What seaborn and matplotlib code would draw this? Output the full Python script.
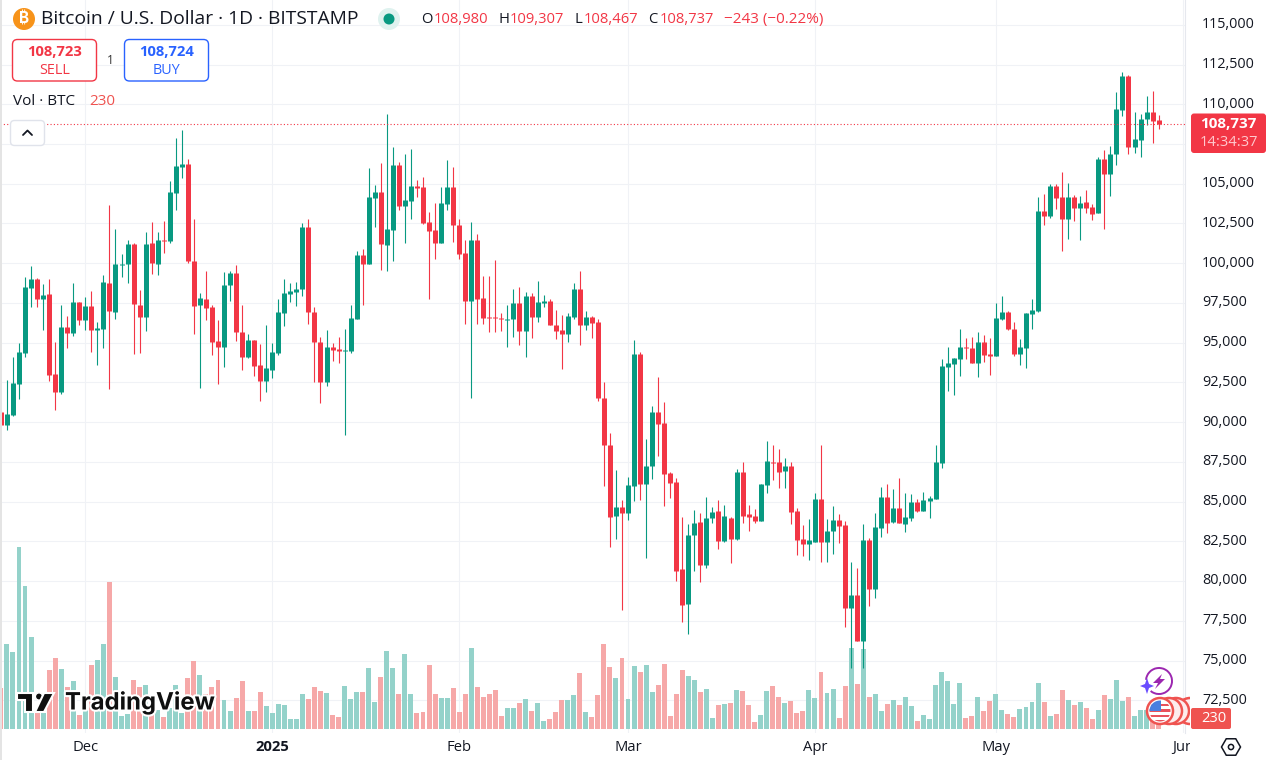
import numpy as np
import pandas as pd
import matplotlib
matplotlib.use("Agg")
import matplotlib.pyplot as plt
import matplotlib.transforms as mtrans
import seaborn as sns
from matplotlib.patches import Circle, FancyBboxPatch, Polygon, Rectangle, Arc, RegularPolygon
import matplotlib.patheffects as pe

opens = [90630,89830,90480,92410,94380,98450,99010,97750,98070,93040,
91900,95990,95600,97570,96430,97310,95800,95870,98760,96940,
99890,99950,101210,97380,96620,101270,99950,101460,101400,104420,
106050,106240,100140,97380,97750,97250,95110,94730,98630,99390,
95680,94110,95180,93600,92600,93290,94360,96870,98070,98200,
98390,102290,96940,95050,92540,94740,94620,94490,94490,96500,
100530,99960,104110,104490,101150,102100,106180,103610,103920,104860,
104800,102600,102100,101280,103730,104800,102410,100650,97630,101470,
97820,96630,96630,96560,96440,96500,97510,95750,97950,96630,
97510,97630,96120,95810,95560,96630,98390,96120,96630,96310,
91510,88560,84110,84670,84300,85990,94270,86120,87240,90630,
89940,86810,86240,80790,78590,82920,83730,81040,83980,84420,
82540,83980,82670,86870,84240,84110,83790,86050,87500,87500,
86930,87240,84420,82670,82350,82480,85170,82480,83170,83860,
83550,78340,79160,76270,82600,79530,83360,85300,83700,84600,
83600,83980,84980,84410,85040,85170,87430,93470,93660,93970,
94720,94660,93720,95040,94280,94160,96470,96930,95860,94280,
94660,96800,96990,103280,102960,104850,104160,102770,104160,103470,
103840,103530,103150,106550,105600,106860,109630,111770,107300,107740,
109060,109500,108980]

closes = [89830,90520,92470,94420,98500,99010,97780,98000,92975,91900,
95990,95600,97570,96430,97310,95800,95930,98820,97000,99950,
99950,101210,97440,96620,101210,100020,101460,101400,104480,106120,
106240,100140,97310,97820,97190,95050,94730,98630,99390,95680,
94110,95180,93540,92600,93410,94420,96940,98130,98260,98390,
102290,96940,95050,92540,94740,94550,94490,94550,96560,100530,
99960,104170,104490,101220,102160,106180,103610,103980,104860,104740,
102540,102040,101280,103800,104800,102410,100590,97630,101470,97760,
96560,96560,96560,96500,96500,97510,95750,97950,96630,97570,
97630,96120,95750,95560,96690,98390,96120,96630,96250,91530,
88560,84050,84670,84300,86050,94270,86120,87240,90630,89880,
86740,86180,80660,78530,82920,83670,81040,83980,84360,82540,
84110,82670,86870,84110,84050,83790,86120,87560,87430,86870,
87240,84360,82600,82350,82600,85170,82480,83170,83860,83480,
78340,79160,76210,82600,79530,83420,85300,83670,84600,83660,
84040,84980,84410,85100,85230,87490,93530,93720,94030,94720,
94660,93720,95040,94220,94160,96550,96930,95860,94280,94720,
96860,97050,103280,102960,104850,104090,102770,104160,103470,103780,
103470,103090,106550,105600,106860,109690,111770,107300,107800,109060,
109500,108940,108737]

highs = [90700,92660,94100,94990,99140,99830,99070,98700,99010,95050,
97380,96680,98760,97570,97880,98260,96310,99260,103660,102150,
100580,101460,101250,98320,101970,102600,101970,102660,105170,107880,
108380,106560,102780,98130,99510,97380,96430,99450,99510,99890,
97380,95550,95180,94920,96120,94990,97750,99010,98760,98830,
102540,102790,97250,95370,95810,94990,95370,95870,97380,100780,
100900,105990,104930,106310,109390,107320,106370,106880,107190,105240,
105430,103230,103800,104800,106500,106060,102790,101470,102600,101850,
99200,99200,100210,96900,97380,98390,98510,98200,98140,98890,
98010,97760,97070,96750,96880,98760,99520,97000,96690,96500,
92510,89310,86990,85110,86550,95150,94390,88940,91010,92820,
91260,86870,86470,84050,83610,84490,84300,85300,84670,85110,
84800,84050,87060,87500,84800,84550,86120,88810,88560,88310,
87750,87500,84610,83550,83920,85550,88560,83920,84740,84240,
83800,81230,80850,83610,82730,84300,85930,86120,85800,86490,
85550,85480,85170,85610,85360,88560,93970,94720,94030,95860,
95290,95350,95670,95480,95290,97490,97930,96990,96300,95230,
96860,97740,104160,104350,104980,104980,105730,105040,104320,104220,
104600,103720,106670,107110,107360,110760,112020,111830,109500,109380,
110510,110820,109307]

lows = [89800,89480,90400,91460,94130,97270,97270,95820,92600,90770,
91780,94670,95430,96120,95800,94420,93600,94670,92100,96500,
99140,98760,94300,94360,95740,99330,99260,100650,101270,103350,
105360,100020,95550,92160,96430,94230,92410,93480,97630,95110,
93290,94040,92910,91340,91900,92790,94230,96060,97570,97320,
97950,96190,92540,91220,92290,93860,93730,89210,94360,96500,
97380,99960,102290,99580,99520,100150,103350,101280,102790,104170,
102480,97760,100270,101280,103350,101340,100270,96190,91530,96190,
96190,95680,95680,95750,94740,95370,94870,94110,95310,96310,
97250,96120,95240,93360,95060,96500,94870,95810,95310,91340,
85990,82170,82670,78220,83860,85050,85110,81480,86430,87870,
84740,85240,80030,77460,76650,80660,79970,80850,83670,82040,
82480,81160,82600,83670,83170,83690,83790,85550,86370,85860,
85860,83610,81660,81600,81350,82480,81230,81230,81730,82420,
77150,74540,76210,74540,78470,78970,82790,83040,83660,83660,
83100,83790,84350,84410,83970,85170,87120,91960,91710,92900,
93970,93720,92840,93780,92960,94160,96420,95790,94160,93590,
93400,95860,96930,102400,102840,103400,100760,101520,102650,101450,
103150,102710,103150,102140,104220,106170,109250,106860,106920,106670,
108680,107550,108467]

volumes = [984,2040,1848,4368,3432,2208,376,376,1416,1704,
1440,1008,1152,336,456,1536,1656,2040,3528,1248,
312,360,1176,1008,1056,376,456,288,496,1056,
392,1224,1632,1296,840,1008,1176,696,432,744,
1152,432,432,888,552,384,600,576,240,240,
840,720,1008,912,864,336,288,1032,720,888,
888,1464,648,1248,1872,1464,840,1800,840,384,
408,1536,840,744,744,984,408,840,1944,1008,
768,840,936,312,504,504,624,720,432,624,
192,240,408,696,696,816,1344,408,288,816,
2040,1488,1224,1704,720,1512,1368,1536,888,1056,
1560,312,840,1416,1272,1176,888,960,264,576,
600,624,936,912,576,168,336,912,1032,768,
624,672,384,432,936,744,1368,864,960,264,
1032,1944,1080,1920,768,840,432,600,696,576,
768,552,192,336,240,1056,1368,1152,600,1104,
264,312,768,432,672,840,456,360,288,480,
528,648,1104,648,312,360,936,696,576,648,
504,240,456,816,720,1176,672,768,312,456,
456,216,230]

price_ticks = [72500,75000,77500,80000,82500,85000,87500,90000,92500,95000,
               97500,100000,102500,105000,107500,110000,112500,115000]
hidden_price_label = 107500
month_days = [14,45,76,104,135,165,196]
month_labels = ["Dec","2025","Feb","Mar","Apr","May","Jun"]

W, H = 1270, 760
UP, DOWN = "#089981", "#f23645"
VUP, VDOWN = "#94d2ca", "#f6a8a8"
INK = "#131722"
GRID = "#f0f2f6"
FONT = ["Open Sans", "DejaVu Sans"]

sns.set_theme(style="white")
plt.rcParams["font.family"] = FONT

days = np.arange(len(opens))
df = pd.DataFrame(dict(day=days, o=opens, h=highs, l=lows, c=closes, vol=volumes))
df["dir"] = np.where(df.c >= df.o, "up", "down")
wicks = pd.concat([df.assign(price=df.h), df.assign(price=df.l)])
bodies = pd.concat([df.assign(price=df.o), df.assign(price=df.c)])

fig = plt.figure(figsize=(W/100, H/100), dpi=100, facecolor="white")
rect = [0, 1-733/H, 1185/W, 733/H]
ax = fig.add_axes(rect)
axv = fig.add_axes(rect)
axc = fig.add_axes(rect)
xlim = (-0.15, 196.37)
ylim = (70452, 116558)

# base: price scale and grid
ax.set_xlim(xlim); ax.set_ylim(ylim)
ax.yaxis.tick_right()
ax.set_yticks(price_ticks)
ax.set_yticklabels(["" if v == hidden_price_label else f"{v:,}" for v in price_ticks],
                   color=INK, fontsize=10.4)
ax.set_xticks(month_days)
ax.set_xticklabels(month_labels, color=INK, fontsize=10.6)
ax.get_xticklabels()[1].set_fontweight("bold")
ax.tick_params(axis="y", length=0, pad=12.2)
ax.tick_params(axis="x", length=0, pad=5)
up_shift = mtrans.ScaledTranslation(0, 1.6/72, fig.dpi_scale_trans)
for lbl in ax.get_yticklabels():
    lbl.set_transform(lbl.get_transform() + up_shift)
ax.grid(True, color=GRID, lw=0.8)
ax.set_axisbelow(True)
for s in ax.spines.values():
    s.set_visible(False)
ax.spines["right"].set_visible(True)
ax.spines["right"].set_color("#e6e8ee")
ax.spines["right"].set_linewidth(0.8)

# volume bars
sns.barplot(data=df, x="day", y="vol", hue="dir", palette={"up": VUP, "down": VDOWN},
            native_scale=True, dodge=False, errorbar=None, legend=False, saturation=1,
            width=0.82, linewidth=0, edgecolor="none", ax=axv)
axv.set_xlim(xlim); axv.set_ylim(-96, 17496)
axv.axis("off"); axv.patch.set_visible(False)

# candles
pal = {"up": UP, "down": DOWN}
sns.lineplot(data=wicks, x="day", y="price", hue="dir", palette=pal, units="day",
             estimator=None, sort=False, legend=False, linewidth=0.8,
             solid_capstyle="butt", ax=axc)
sns.lineplot(data=bodies, x="day", y="price", hue="dir", palette=pal, units="day",
             estimator=None, sort=False, legend=False, linewidth=3.6,
             solid_capstyle="butt", ax=axc)
axc.axhline(closes[-1], color=DOWN, lw=0.8, linestyle=(0, (1, 2)), clip_on=False)
axc.set_xlim(xlim); axc.set_ylim(ylim)
axc.axis("off"); axc.patch.set_visible(False)

# overlay in pixel coordinates
ov = fig.add_axes([0, 0, 1, 1], zorder=10)
ov.set_xlim(0, W); ov.set_ylim(H, 0); ov.axis("off"); ov.patch.set_visible(False)

def T(x, y, s, size=10.6, color=INK, ha="left", weight="normal", family=FONT, **kw):
    return ov.text(x, y, s, fontsize=size, color=color, ha=ha, va="center",
                   fontweight=weight, family=family, **kw)

def box(x0, y0, x1, y1, fc, ec, r=5, lw=1.0, z=2):
    p = FancyBboxPatch((x0, y0), x1-x0, y1-y0, boxstyle=f"round,pad=0,rounding_size={r}",
                       fc=fc, ec=ec, lw=lw, zorder=z)
    ov.add_patch(p)
    return p

ov.add_patch(Rectangle((0, 0), 1.5, H, fc="#e4e4e4", ec="none"))

# header
ov.add_patch(Circle((24, 19), 11, fc="#f7931a", ec="none"))
T(24, 19, "\u20bf", size=11, color="white", ha="center", weight="bold",
  family=["Inter", "Roboto", "Noto Sans", "Lato", "DejaVu Sans"])
T(41, 19.5, "Bitcoin / U.S. Dollar \u00b7 1D \u00b7 BITSTAMP", size=13.9)
ov.add_patch(Circle((389, 19), 11, fc="#dff2ef", ec="none"))
ov.add_patch(Circle((389, 19), 5.5, fc=UP, ec="none"))
for lx, l, vx, v in [(421, "O", 434, "108,980"), (498, "H", 510, "109,307"),
                     (574, "L", 584, "108,467"), (648, "C", 660, "108,737")]:
    T(lx, 19.5, l, size=10.6)
    T(vx, 19.5, v, size=10.6, color=DOWN)
T(724, 19.5, "\u2212243 (\u22120.22%)", size=11, color=DOWN)

# sell / buy
box(12.5, 39.5, 96.5, 81, "white", DOWN)
T(54.5, 52.5, "108,723", size=10.6, color=DOWN, ha="center", weight="bold")
T(54.5, 70, "SELL", size=10.4, color=DOWN, ha="center")
box(124.5, 39.5, 208.5, 81, "white", "#2962ff")
T(166.5, 52.5, "108,724", size=10.6, color="#2962ff", ha="center", weight="bold")
T(166.5, 70, "BUY", size=10.4, color="#2962ff", ha="center")
T(110, 60, "1", size=8.5, color="#333333", ha="center")
T(13, 101.5, "Vol \u00b7 BTC", size=11)
T(89, 101.5, "230", size=11, color="#ef5350")

# collapse button
box(10.5, 120.5, 44.5, 145.5, "white", "#e0e3eb", r=4)
ov.plot([23, 27.5, 32], [135, 130.5, 135], color=INK, lw=1.3, solid_capstyle="round")

# price labels
box(1191, 113.5, 1266, 153, DOWN, DOWN, r=3, lw=0)
T(1228.5, 124.5, "108,737", size=11, color="white", ha="center", weight="bold")
T(1228.5, 142.5, "14:34:37", size=10.6, color="#ffc9ce", ha="center")
box(1191, 708, 1231, 729, "#ef5350", "#ef5350", r=2, lw=0, z=6)
T(1214, 718.5, "230", size=10.6, color="white", ha="center", zorder=7)

# bottom right: mask of the clipped month label, settings
ov.add_patch(Rectangle((1190, 733), 80, 27, fc="white", ec="none", zorder=3))
ov.add_patch(RegularPolygon((1231, 747), 6, radius=9.5, orientation=np.pi/2, fc="white",
                            ec=INK, lw=1.1, zorder=4))
ov.add_patch(Circle((1231, 747), 2.6, fc="white", ec=INK, lw=1.1, zorder=5))

# TradingView mark
halo = [pe.withStroke(linewidth=3, foreground="white")]
ov.add_patch(Polygon([(17,693),(33,693),(33,712),(25,712),(25,700),(17,700)], fc="#0f0f0f",
                     ec="white", lw=1.5, zorder=4))
ov.add_patch(Circle((39, 696.5), 3.6, fc="#0f0f0f", ec="white", lw=1, zorder=4))
ov.add_patch(Polygon([(44,693),(54,693),(44,712),(35,712)], fc="#0f0f0f", ec="white",
                     lw=1.5, zorder=4))
tv = ov.text(65, 703, "TradingView", fontsize=17.2, color="#0f0f0f", fontweight="bold",
             family=["Inter", "DejaVu Sans"], va="center", ha="left", zorder=5)
tv.set_path_effects(halo)

# purple badge
ov.add_patch(Arc((1159, 681), 26, 26, theta1=185, theta2=490, ec="#9c27b0", lw=1.4, zorder=4))
ov.add_patch(Polygon([(1162,674),(1153,683),(1158,683),(1155,689),(1165,679),(1160,679)],
                     fc="#9c27b0", ec="none", zorder=4))
ov.add_patch(Polygon([(1147,678),(1149,684),(1154,686),(1149,688),(1147,694),(1145,688),
                      (1140,686),(1145,684)], fc="#6a4dff", ec="none", zorder=4))

# flag badges
flag_clip = Rectangle((1130, 690), 60, 45, transform=ov.transData)
for cx in (1190, 1176, 1169):
    c = Circle((cx, 711), 13, fc="#fdeced", ec="#ef5350", lw=1.8, zorder=4)
    ov.add_patch(c)
    c.set_clip_path(flag_clip)
front = Circle((1160, 711), 13, fc="white", ec="#ef5350", lw=1.8, zorder=5)
ov.add_patch(front)
inner = Circle((1160, 711), 10.5, transform=ov.transData)
for k in range(4):
    r = Rectangle((1148, 701 + 5.4*k + 2.7), 24, 2.7, fc="#e8525c", ec="none", zorder=5.1)
    ov.add_patch(r); r.set_clip_path(inner)
b = Rectangle((1149, 700), 11.5, 10.5, fc="#4a7fe0", ec="none", zorder=5.2)
ov.add_patch(b); b.set_clip_path(inner)

fig.savefig("out.png", dpi=100)
